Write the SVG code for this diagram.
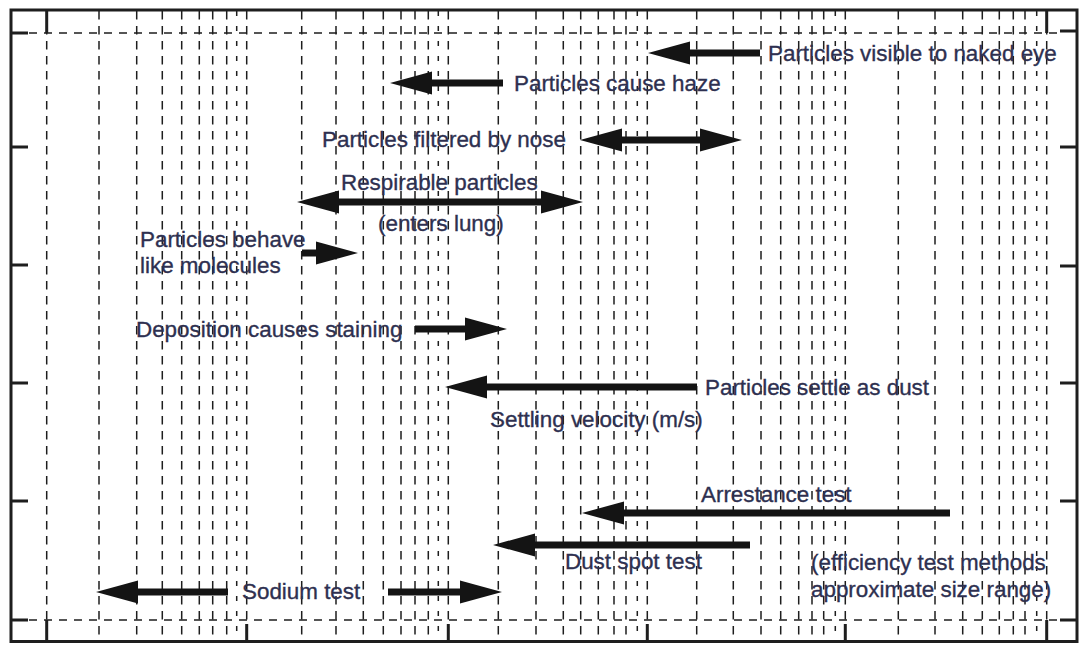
<svg xmlns="http://www.w3.org/2000/svg" width="1081" height="653" viewBox="0 0 1081 653">
  <style>
    .frame { fill: none; stroke: #1e1e1e; stroke-width: 3; }
    .tick { stroke: #1e1e1e; stroke-width: 3; }
    .grid { stroke: #1e1e1e; stroke-width: 1.5; stroke-dasharray: 8.5 6.5; fill: none; }
    .grid9 { stroke: #1e1e1e; stroke-width: 1.5; stroke-dasharray: 5 10; fill: none; }
    .hgrid { stroke: #1e1e1e; stroke-width: 1.5; stroke-dasharray: 8 7; fill: none; }
    .shaft { stroke: #141414; stroke-width: 7; fill: none; }
    .lbl { font-family: "Liberation Sans", Arial, Helvetica, sans-serif; font-size: 22.4px; fill: #2e3050; stroke: #2e3050; stroke-width: 0.35; }
  </style>
  <defs>
    <marker id="head" markerUnits="userSpaceOnUse" viewBox="0 0 42 24" markerWidth="42" markerHeight="24" refX="1" refY="12" orient="auto-start-reverse">
      <path d="M0,0.5 L42,12 L0,23.5 Z" fill="#141414"/>
    </marker>
  </defs>

  <rect width="1081" height="653" fill="#ffffff"/>

  <!-- log-scale grid: one dashed line per value 1..9 in each decade -->
  <g id="grid">
    <g class="grid">
      <path d="M46.7,11V641 M99,11V641 M136.7,11V641 M162.3,11V641 M181.7,11V641 M199.3,11V641 M212.7,11V641 M226.7,11V641 M246.7,11V641"/>
      <path d="M301.7,11V641 M336,11V641 M363.3,11V641 M383.3,11V641 M401,11V641 M415,11V641 M428.3,11V641 M448.3,11V641"/>
      <path d="M498.3,11V641 M536,11V641 M563.3,11V641 M580.7,11V641 M598.3,11V641 M614,11V641 M626,11V641 M647.3,11V641"/>
      <path d="M696.7,11V641 M733.3,11V641 M761,11V641 M780.7,11V641 M798.7,11V641 M812,11V641 M823.7,11V641 M845.3,11V641"/>
      <path d="M898.3,11V641 M935,11V641 M962.7,11V641 M982.3,11V641 M999.3,11V641 M1013.3,11V641 M1025,11V641 M1046.7,11V641"/>
    </g>
    <path class="grid9" d="M236.7,11V641 M438.3,11V641 M637.3,11V641 M835.3,11V641 M1036.7,11V641"/>
    <path class="hgrid" d="M29,33H1062 M29,620H1062"/>
  </g>

  <!-- outer frame and axis ticks -->
  <g id="frame">
    <rect class="frame" x="11" y="10" width="1066" height="631.5"/>
    <path class="tick" d="M11,33H28 M11,147H28 M11,265H28 M11,383H28 M11,501H28 M11,620H28"/>
    <path class="tick" d="M1060,31H1077 M1060,147H1077 M1060,266H1077 M1060,383H1077 M1060,501H1077 M1060,620H1077"/>
    <path class="tick" d="M46.7,10V33 M1046.7,10V33"/>
    <path class="tick" d="M46.7,620V641 M246.7,624V641 M448.3,624V641 M647.3,624V641 M845.3,624V641 M1046.7,620V641"/>
  </g>

  <!-- size-range arrows -->
  <g id="connectors">
    <line class="shaft" x1="760" y1="53" x2="689" y2="53" marker-end="url(#head)"/>
    <line class="shaft" x1="503" y1="83" x2="431" y2="83" marker-end="url(#head)"/>
    <line class="shaft" x1="621" y1="140" x2="701" y2="140" marker-start="url(#head)" marker-end="url(#head)"/>
    <line class="shaft" x1="338" y1="202" x2="542" y2="202" marker-start="url(#head)" marker-end="url(#head)"/>
    <line class="shaft" x1="302" y1="253" x2="317" y2="253" marker-end="url(#head)"/>
    <line class="shaft" x1="415" y1="329" x2="466" y2="329" marker-end="url(#head)"/>
    <line class="shaft" x1="697" y1="387" x2="486" y2="387" marker-end="url(#head)"/>
    <line class="shaft" x1="950" y1="513" x2="623" y2="513" marker-end="url(#head)"/>
    <line class="shaft" x1="750" y1="545" x2="534" y2="545" marker-end="url(#head)"/>
    <line class="shaft" x1="228" y1="592" x2="137" y2="592" marker-end="url(#head)"/>
    <line class="shaft" x1="388" y1="592" x2="461" y2="592" marker-end="url(#head)"/>
  </g>

  <!-- labels -->
  <g id="visible"><text class="lbl" x="768" y="61">Particles visible to naked eye</text></g>
  <g id="haze"><text class="lbl" x="514" y="91">Particles cause haze</text></g>
  <g id="nose"><text class="lbl" x="322" y="147">Particles filtered by nose</text></g>
  <g id="respirable">
    <text class="lbl" x="341" y="190">Respirable particles</text>
    <text class="lbl" x="378" y="231">(enters lung)</text>
  </g>
  <g id="molecules">
    <text class="lbl" x="140" y="247">Particles behave</text>
    <text class="lbl" x="140" y="273">like molecules</text>
  </g>
  <g id="staining"><text class="lbl" x="136" y="337">Deposition causes staining</text></g>
  <g id="dust"><text class="lbl" x="705" y="395">Particles settle as dust</text></g>
  <g id="velocity"><text class="lbl" x="490" y="427">Settling velocity (m/s)</text></g>
  <g id="arrestance"><text class="lbl" x="701" y="502">Arrestance test</text></g>
  <g id="dustspot"><text class="lbl" x="565" y="569">Dust spot test</text></g>
  <g id="methods">
    <text class="lbl" x="811" y="570">(efficiency test methods</text>
    <text class="lbl" x="811" y="597">approximate size range)</text>
  </g>
  <g id="sodium"><text class="lbl" x="242" y="599">Sodium test</text></g>
</svg>
